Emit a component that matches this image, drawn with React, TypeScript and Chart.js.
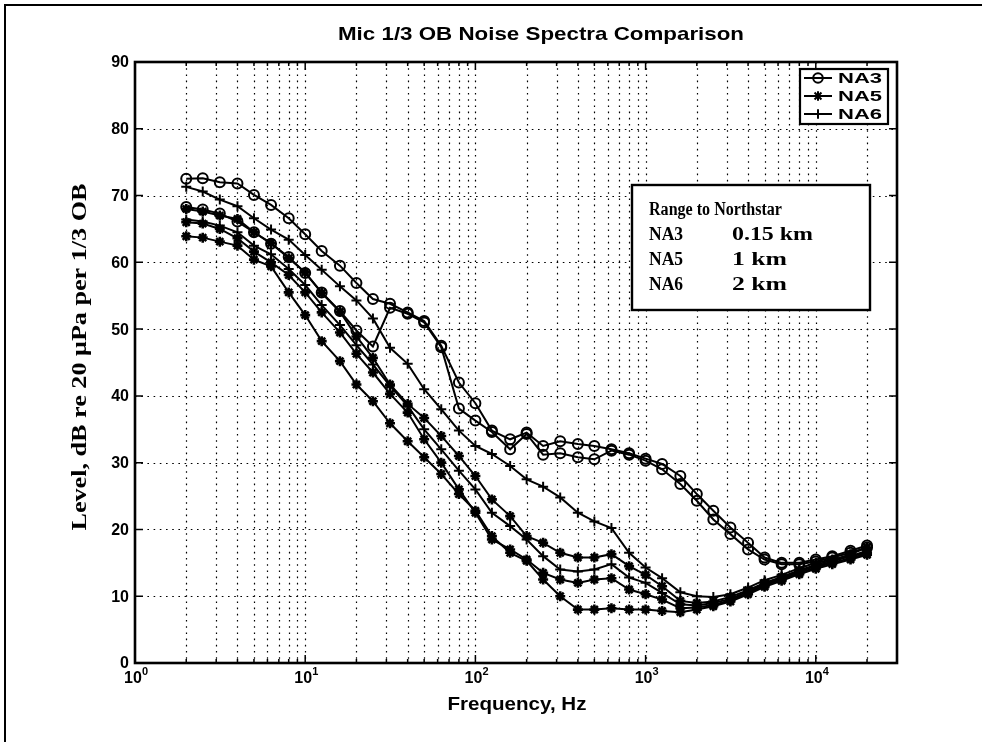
import React, { useEffect, useRef } from "react";
import { Chart, registerables } from "chart.js";

Chart.register(...registerables);

// 1/3-octave band centre frequencies, Hz
const freqHz = [2, 2.5, 3.15, 4, 5, 6.3, 8, 10, 12.5, 16, 20, 25, 31.5, 40, 50, 63, 80, 100, 125, 160, 200, 250, 315, 400, 500, 630, 800, 1000, 1250, 1600, 2000, 2500, 3150, 4000, 5000, 6300, 8000, 10000, 12500, 16000, 20000];

// NA3 (circles)
const na3a = [72.5, 72.6, 72.0, 71.8, 70.1, 68.6, 66.6, 64.2, 61.7, 59.5, 56.9, 54.5, 53.8, 52.5, 51.2, 47.5, 42.0, 38.9, 34.8, 33.5, 34.5, 32.5, 33.2, 32.8, 32.5, 32.0, 31.4, 30.6, 29.8, 28.0, 25.3, 22.8, 20.3, 18.0, 15.8, 15.0, 15.0, 15.5, 16.0, 16.8, 17.6];
const na3b = [68.3, 67.9, 67.3, 66.1, 64.5, 62.8, 60.8, 58.4, 55.5, 52.7, 49.8, 47.4, 53.2, 52.3, 51.0, 47.3, 38.1, 36.3, 34.6, 32.0, 34.3, 31.2, 31.4, 30.8, 30.5, 31.8, 31.2, 30.3, 29.0, 26.8, 24.3, 21.5, 19.3, 17.0, 15.5, 14.8, 14.8, 15.2, 15.8, 16.5, 17.3];

// NA5 (asterisks)
const na5a = [68.0, 67.6, 67.0, 66.5, 64.5, 62.9, 60.6, 58.5, 55.4, 52.6, 48.9, 45.7, 41.7, 38.8, 36.7, 34.0, 31.0, 28.0, 24.5, 22.0, 19.0, 18.0, 16.5, 15.8, 15.8, 16.3, 14.5, 13.2, 11.5, 9.3, 9.0, 9.2, 9.9, 10.9, 12.0, 12.9, 13.9, 14.7, 15.4, 16.3, 17.3];
const na5b = [66.0, 65.8, 65.0, 63.6, 61.6, 60.0, 58.1, 55.5, 52.5, 49.5, 46.3, 43.5, 40.3, 37.5, 33.5, 30.0, 26.0, 22.5, 18.5, 17.0, 15.5, 13.5, 12.5, 12.0, 12.5, 12.7, 11.0, 10.3, 9.5, 8.2, 8.3, 8.7, 9.4, 10.5, 11.6, 12.5, 13.5, 14.3, 15.0, 15.7, 16.4];
const na5c = [63.9, 63.7, 63.1, 62.5, 60.4, 59.4, 55.5, 52.1, 48.2, 45.2, 41.7, 39.2, 35.9, 33.2, 30.8, 28.3, 25.3, 22.8, 19.0, 16.5, 15.3, 12.5, 10.0, 8.0, 8.0, 8.2, 8.0, 8.0, 7.8, 7.6, 8.0, 8.5, 9.2, 10.3, 11.4, 12.3, 13.3, 14.1, 14.8, 15.5, 16.2];

// NA6 (plus)
const na6a = [71.3, 70.6, 69.4, 68.4, 66.6, 64.9, 63.4, 61.1, 58.9, 56.4, 54.3, 51.6, 47.2, 44.8, 41.0, 38.0, 34.8, 32.5, 31.3, 29.5, 27.5, 26.4, 24.8, 22.5, 21.2, 20.2, 16.5, 14.3, 12.7, 10.6, 10.0, 9.9, 10.3, 11.3, 12.4, 13.2, 14.2, 15.0, 15.5, 16.0, 16.5];
const na6b = [66.4, 66.1, 65.5, 64.5, 62.5, 61.2, 59.0, 56.6, 53.6, 50.6, 47.6, 44.7, 41.5, 38.5, 35.0, 32.0, 28.8, 26.0, 22.5, 20.5, 18.5, 16.0, 14.0, 13.7, 14.0, 14.8, 12.8, 12.0, 10.5, 8.8, 8.6, 9.0, 9.6, 10.7, 11.8, 12.7, 13.7, 14.5, 15.2, 16.0, 16.8];

const titleText = "Mic 1/3 OB Noise Spectra Comparison";
const xTitleText = "Frequency, Hz";
const yTitleText = "Level, dB re 20 \u03bcPa per 1/3 OB";
const yTickValues = [0, 10, 20, 30, 40, 50, 60, 70, 80, 90];
const xDecadeValues = [1, 10, 100, 1000, 10000];
const xDecadeExponents = ["0", "1", "2", "3", "4"];
const xMin = 1;
const xMax = 30000;
const legendNames = ["NA3", "NA5", "NA6"];
const legendStyles = ["circle", "star", "cross"];
const rangeHeader = "Range to Northstar";
const rangeSites = ["NA3", "NA5", "NA6"];
const rangeDistances = ["0.15 km", "1 km", "2 km"];

const SANS = '"Liberation Sans", Arial, sans-serif';
const SERIF = '"Liberation Serif", "Times New Roman", serif';

function fitText(ctx: CanvasRenderingContext2D, text: string, x: number, y: number, font: string, width: number, align: CanvasTextAlign) {
  ctx.save();
  ctx.font = font;
  const w = ctx.measureText(text).width;
  const s = width / w;
  ctx.translate(x, y);
  ctx.scale(s, 1);
  ctx.textAlign = align;
  ctx.textBaseline = "alphabetic";
  ctx.fillText(text, 0, 0);
  ctx.restore();
}

function drawMarker(ctx: CanvasRenderingContext2D, style: string, x: number, y: number, r: number) {
  ctx.save();
  ctx.setLineDash([]);
  ctx.strokeStyle = "#000";
  ctx.lineWidth = 2;
  ctx.beginPath();
  if (style === "circle") {
    ctx.arc(x, y, r, 0, Math.PI * 2);
  } else if (style === "star") {
    const d = r * 0.72;
    ctx.moveTo(x - r, y); ctx.lineTo(x + r, y);
    ctx.moveTo(x, y - r); ctx.lineTo(x, y + r);
    ctx.moveTo(x - d, y - d); ctx.lineTo(x + d, y + d);
    ctx.moveTo(x - d, y + d); ctx.lineTo(x + d, y - d);
  } else {
    ctx.moveTo(x - r, y); ctx.lineTo(x + r, y);
    ctx.moveTo(x, y - r); ctx.lineTo(x, y + r);
  }
  ctx.stroke();
  ctx.restore();
}

const decorPlugin = {
  id: "decor",
  beforeDatasetsDraw(chart: any) {
    const { ctx, chartArea: a, scales } = chart;
    const xs = scales.x;
    const ys = scales.y;
    ctx.save();
    ctx.strokeStyle = "#000";
    ctx.lineWidth = 1.2;
    ctx.setLineDash([1.6, 4.6]);
    for (let e = 0; e < 5; e++) {
      for (let k = 1; k <= 9; k++) {
        const v = k * Math.pow(10, e);
        if (v <= xMin || v >= xMax) continue;
        const px = Math.round(xs.getPixelForValue(v)) + 0.5;
        ctx.beginPath();
        ctx.moveTo(px, a.top);
        ctx.lineTo(px, a.bottom);
        ctx.stroke();
      }
    }
    for (const v of yTickValues) {
      if (v === 0 || v === 90) continue;
      const py = Math.round(ys.getPixelForValue(v)) + 0.5;
      ctx.beginPath();
      ctx.moveTo(a.left, py);
      ctx.lineTo(a.right, py);
      ctx.stroke();
    }
    ctx.restore();
  },
  afterDraw(chart: any) {
    const { ctx, chartArea: a, scales } = chart;
    const xs = scales.x;
    const ys = scales.y;
    ctx.save();
    ctx.setLineDash([]);
    ctx.fillStyle = "#000";
    ctx.strokeStyle = "#000";

    // outer figure frame (top & left visible)
    ctx.lineWidth = 2;
    ctx.beginPath();
    ctx.moveTo(5, 760);
    ctx.lineTo(5, 5);
    ctx.lineTo(990, 5);
    ctx.stroke();

    // ticks (inward)
    ctx.lineWidth = 1.5;
    for (let e = 0; e < 5; e++) {
      for (let k = 1; k <= 9; k++) {
        const v = k * Math.pow(10, e);
        if (v <= xMin || v >= xMax) continue;
        const len = k === 1 ? 8 : 4;
        const px = xs.getPixelForValue(v);
        ctx.beginPath();
        ctx.moveTo(px, a.bottom); ctx.lineTo(px, a.bottom - len);
        ctx.moveTo(px, a.top); ctx.lineTo(px, a.top + len);
        ctx.stroke();
      }
    }
    for (const v of yTickValues) {
      const py = ys.getPixelForValue(v);
      ctx.beginPath();
      ctx.moveTo(a.left, py); ctx.lineTo(a.left + 8, py);
      ctx.moveTo(a.right, py); ctx.lineTo(a.right - 8, py);
      ctx.stroke();
    }

    // axes box
    ctx.lineWidth = 2.6;
    ctx.strokeRect(a.left, a.top, a.right - a.left, a.bottom - a.top);

    // y tick labels
    ctx.font = `bold 16px ${SANS}`;
    ctx.textAlign = "right";
    ctx.textBaseline = "middle";
    for (const v of yTickValues) {
      ctx.fillText(String(v), a.left - 6, ys.getPixelForValue(v) + 1);
    }

    // x tick labels 10^n
    xDecadeValues.forEach((v, i) => {
      const px = xs.getPixelForValue(v);
      ctx.font = `bold 16px ${SANS}`;
      ctx.textAlign = "center";
      ctx.textBaseline = "alphabetic";
      ctx.fillText("10", px - 2, a.bottom + 20);
      ctx.font = `bold 11px ${SANS}`;
      ctx.textAlign = "left";
      ctx.fillText(xDecadeExponents[i], px + 7, a.bottom + 12);
    });

    // title
    fitText(ctx, titleText, 541, 40, `bold 19px ${SANS}`, 406, "center");
    // x title
    fitText(ctx, xTitleText, 517, 710, `bold 18px ${SANS}`, 139, "center");
    // y title (rotated)
    ctx.save();
    ctx.translate(86, 357);
    ctx.rotate(-Math.PI / 2);
    fitText(ctx, yTitleText, 0, 0, `bold 21px ${SERIF}`, 347, "center");
    ctx.restore();

    // legend box
    const lx0 = 800, ly0 = 69, lx1 = 888, ly1 = 124;
    ctx.fillStyle = "#fff";
    ctx.fillRect(lx0, ly0, lx1 - lx0, ly1 - ly0);
    ctx.lineWidth = 2.2;
    ctx.strokeRect(lx0, ly0, lx1 - lx0, ly1 - ly0);
    ctx.fillStyle = "#000";
    legendNames.forEach((name, i) => {
      const cy = 78 + i * 18;
      ctx.lineWidth = 2;
      ctx.beginPath();
      ctx.moveTo(804, cy);
      ctx.lineTo(832, cy);
      ctx.stroke();
      drawMarker(ctx, legendStyles[i], 818, cy, 4.8);
      fitText(ctx, name, 838, cy + 5, `bold 14px ${SANS}`, 44, "left");
    });

    // "Range to Northstar" box
    const bx0 = 632, by0 = 185, bx1 = 870, by1 = 310;
    ctx.fillStyle = "#fff";
    ctx.fillRect(bx0, by0, bx1 - bx0, by1 - by0);
    ctx.lineWidth = 2.4;
    ctx.strokeRect(bx0, by0, bx1 - bx0, by1 - by0);
    ctx.fillStyle = "#000";
    fitText(ctx, rangeHeader, 649, 215, `bold 18px ${SERIF}`, 133, "left");
    const distWidths = [81, 55, 55];
    rangeSites.forEach((s, i) => {
      const by = 240 + i * 25;
      fitText(ctx, s, 649, by, `bold 18px ${SERIF}`, 34, "left");
      fitText(ctx, rangeDistances[i], 732, by, `bold 18px ${SERIF}`, distWidths[i], "left");
    });

    ctx.restore();
  },
};

function series(label: string, values: number[], style: string) {
  return {
    label,
    data: freqHz.map((f, i) => ({ x: f, y: values[i] })),
    borderColor: "#000",
    borderWidth: 2,
    pointStyle: style,
    pointRadius: style === "circle" ? 5 : 5,
    pointBorderWidth: style === "circle" ? 2 : style === "star" ? 2.6 : 2,
    pointBorderColor: "#000",
    pointBackgroundColor: "rgba(0,0,0,0)",
    fill: false,
    tension: 0,
  };
}

export default function App() {
  const ref = useRef<HTMLCanvasElement>(null);
  useEffect(() => {
    const canvas = ref.current;
    if (!canvas) return;
    const chart = new Chart(canvas, {
      type: "line",
      data: {
        datasets: [
          series("NA5", na5c, "star") as any,
          series("NA5", na5b, "star") as any,
          series("NA6", na6b, "cross") as any,
          series("NA5", na5a, "star") as any,
          series("NA6", na6a, "cross") as any,
          series("NA3", na3b, "circle") as any,
          series("NA3", na3a, "circle") as any,
        ],
      },
      options: {
        responsive: false,
        animation: false,
        devicePixelRatio: 1,
        layout: { padding: { left: 135, right: 85, top: 62, bottom: 79 } },
        plugins: {
          legend: { display: false },
          title: { display: false },
          tooltip: { enabled: false },
        },
        scales: {
          x: {
            type: "logarithmic",
            min: xMin,
            max: xMax,
            ticks: { display: false },
            grid: { display: false, drawTicks: false },
            border: { display: false },
          },
          y: {
            type: "linear",
            min: 0,
            max: 90,
            ticks: { display: false },
            grid: { display: false, drawTicks: false },
            border: { display: false },
          },
        },
      } as any,
      plugins: [decorPlugin],
    });
    return () => chart.destroy();
  }, []);
  return (
    <div style={{ position: "fixed", left: 0, top: 0, width: 982, height: 742, background: "#fff" }}>
      <canvas ref={ref} width={982} height={742} style={{ display: "block" }} />
    </div>
  );
}
